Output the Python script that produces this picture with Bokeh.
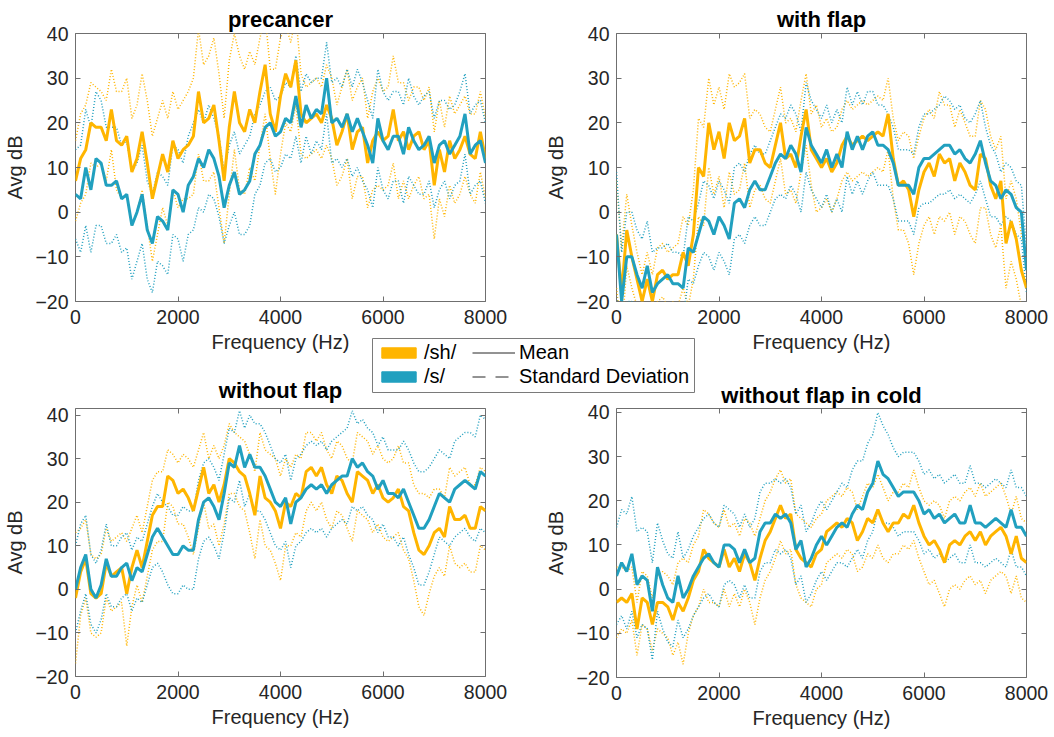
from bokeh.plotting import figure
from bokeh.models import (Range1d, FixedTicker, LinearAxis, Legend, LegendItem,
                          ColumnDataSource)
from bokeh.layouts import row, column
from bokeh.embed import file_html
from bokeh.resources import INLINE

# ---------------- data ----------------
freq = list(range(0, 8001, 100))
x_ticks = [0, 2000, 4000, 6000, 8000]
y_ticks = [-20, -10, 0, 10, 20, 30, 40]

precancer_sh_mean = [7, 12, 14, 20, 19, 19, 16, 23, 16, 15,
                     17, 9, 12, 18, 11, 3, 8, 13, 9, 16,
                     12, 14, 15, 17, 27, 20, 21, 24, 16, 7,
                     19, 27, 20, 18, 23, 20, 27, 33, 22, 18,
                     26, 31, 28, 34, 22, 20, 21, 22, 20, 24,
                     21, 15, 18, 22, 14, 18, 19, 11, 16, 18,
                     16, 17, 23, 16, 18, 14, 17, 18, 14, 16,
                     6, 14, 9, 16, 12, 14, 17, 13, 12, 18,
                     12]
precancer_s_mean = [4, 3, 10, 5, 12, 11, 6, 6, 7, 3,
                    4, -3, 0, 4, -4, -7, -1, -2, -4, 5,
                    4, 0, 6, 8, 12, 10, 14, 12, 8, 1,
                    6, 9, 4, 5, 7, 13, 15, 19, 20, 17,
                    18, 21, 20, 26, 19, 24, 21, 23, 22, 30,
                    20, 21, 19, 22, 18, 21, 18, 15, 11, 21,
                    16, 14, 17, 17, 13, 19, 16, 14, 15, 17,
                    11, 15, 16, 13, 15, 17, 22, 13, 15, 16,
                    11]
precancer_sh_sd = [9, 10, 10, 9, 9, 8, 9, 9, 11, 12,
                   13, 12, 12, 13, 14, 14, 13, 12, 12, 11,
                   11, 11, 12, 13, 14, 13, 14, 15, 15, 14,
                   15, 13, 15, 14, 13, 13, 12, 11, 10, 14,
                   13, 11, 10, 10, 9, 8, 8, 8, 8, 9,
                   9, 9, 10, 10, 11, 10, 11, 10, 11, 12,
                   11, 11, 12, 13, 11, 11, 11, 10, 11, 12,
                   12, 11, 10, 10, 10, 10, 9, 9, 10, 9,
                   9]
precancer_s_sd = [10, 12, 13, 14, 15, 14, 13, 13, 12, 12,
                  12, 12, 11, 11, 11, 11, 10, 10, 10, 10,
                  10, 11, 11, 12, 11, 10, 10, 9, 9, 8,
                  9, 9, 9, 10, 10, 9, 9, 8, 8, 8,
                  8, 8, 8, 9, 8, 7, 8, 7, 8, 8,
                  9, 9, 9, 10, 10, 11, 11, 10, 10, 11,
                  11, 11, 10, 10, 11, 11, 10, 10, 11, 10,
                  10, 10, 9, 10, 9, 10, 9, 9, 9, 9,
                  9]

withflap_sh_mean = [-5, -18, -4, -10, -15, -20, -15, -20, -14, -13,
                    -15, -14, -14, -9, -12, -5, 10, 8, 20, 14,
                    18, 12, 20, 16, 17, 21, 11, 14, 14, 11,
                    10, 15, 20, 12, 13, 10, 17, 23, 14, 12,
                    10, 12, 9, 11, 15, 17, 15, 16, 17, 16,
                    17, 18, 17, 22, 12, 6, 7, 5, -1, 5,
                    9, 11, 8, 13, 11, 12, 7, 11, 9, 6,
                    5, 13, 12, 6, 3, 7, -7, -2, -6, -13,
                    -17]
withflap_s_mean = [-5, -20, -10, -10, -14, -17, -12, -18, -16, -15,
                   -14, -16, -16, -17, -8, -9, -5, -1, -2, -5,
                   -1, -3, -6, 2, 3, 1, 5, 7, 5, 5,
                   8, 11, 13, 12, 15, 13, 9, 19, 15, 13,
                   11, 14, 10, 13, 10, 18, 14, 17, 14, 17,
                   18, 15, 15, 14, 11, 6, 6, 6, 4, 10,
                   12, 12, 13, 14, 15, 15, 13, 14, 12, 11,
                   13, 16, 11, 7, 6, 3, 5, 4, 1, 0,
                   -13]
withflap_sh_sd = [12, 10, 8, 7, 6, 6, 6, 6, 6, 6,
                  6, 6, 7, 8, 9, 10, 11, 11, 10, 10,
                  10, 11, 11, 12, 12, 10, 10, 9, 8, 8,
                  8, 8, 8, 8, 8, 8, 8, 8, 8, 12,
                  9, 9, 9, 8, 8, 8, 8, 8, 8, 8,
                  8, 8, 8, 8, 9, 10, 11, 12, 13, 12,
                  12, 12, 13, 14, 13, 12, 12, 12, 11, 11,
                  12, 12, 11, 11, 11, 10, 10, 9, 9, 8,
                  7]
withflap_s_sd = [14, 11, 10, 10, 10, 11, 10, 9, 8, 7,
                 7, 7, 7, 7, 7, 7, 7, 8, 8, 8,
                 8, 8, 8, 8, 8, 8, 8, 8, 8, 8,
                 8, 8, 9, 9, 9, 9, 9, 10, 10, 10,
                 10, 10, 10, 10, 10, 10, 10, 10, 10, 10,
                 9, 9, 9, 8, 8, 8, 8, 8, 9, 9,
                 10, 10, 10, 10, 11, 10, 10, 10, 9, 9,
                 9, 9, 8, 8, 7, 6, 6, 6, 6, 6,
                 5]

withoutflap_sh_mean = [-2, 4, 7, -1, -2, -1, 6, 3, 4, 5,
                       -1, 5, 9, 5, 11, 17, 19, 19, 26, 25,
                       22, 23, 21, 18, 23, 28, 22, 24, 20, 24,
                       30, 29, 27, 26, 22, 17, 26, 21, 20, 18,
                       14, 20, 19, 22, 21, 27, 28, 26, 28, 24,
                       22, 26, 25, 22, 20, 27, 26, 25, 22, 24,
                       21, 20, 21, 23, 19, 18, 13, 9, 8, 10,
                       13, 14, 12, 19, 16, 16, 17, 14, 14, 19,
                       18]
withoutflap_s_mean = [0, 5, 8, 0, -2, 1, 7, 3, 3, 5,
                      6, 2, 5, 4, 8, 12, 14, 12, 10, 8,
                      8, 10, 9, 9, 16, 20, 21, 19, 16, 22,
                      29, 28, 33, 28, 31, 28, 28, 26, 23, 20,
                      19, 21, 15, 20, 21, 23, 24, 23, 24, 22,
                      24, 25, 26, 26, 30, 28, 29, 27, 26, 23,
                      25, 22, 22, 21, 23, 20, 17, 14, 14, 16,
                      19, 22, 21, 20, 23, 24, 25, 24, 23, 27,
                      26]
withoutflap_sh_sd = [15, 10, 9, 9, 9, 9, 8, 8, 8, 8,
                     12, 9, 8, 8, 8, 8, 8, 8, 6, 6,
                     7, 8, 9, 10, 9, 8, 8, 9, 10, 9,
                     8, 7, 8, 8, 9, 10, 10, 11, 11, 12,
                     12, 10, 9, 9, 9, 9, 8, 8, 8, 8,
                     8, 8, 8, 8, 9, 9, 9, 9, 9, 9,
                     9, 9, 9, 10, 10, 11, 11, 13, 14, 11,
                     10, 9, 9, 9, 10, 11, 11, 10, 10, 9,
                     9]
withoutflap_s_sd = [10, 10, 9, 8, 8, 8, 8, 7, 7, 7,
                    7, 7, 7, 7, 7, 7, 8, 8, 9, 9,
                    9, 9, 9, 9, 9, 9, 9, 9, 9, 9,
                    8, 8, 8, 9, 9, 10, 10, 10, 10, 10,
                    10, 10, 10, 10, 10, 10, 10, 10, 10, 10,
                    10, 10, 10, 11, 11, 10, 10, 10, 10, 10,
                    10, 10, 10, 11, 11, 12, 12, 13, 13, 12,
                    11, 10, 10, 10, 11, 11, 11, 12, 12, 13,
                    13]

cold_sh_mean = [-3, -2, -3, -1, -9, -2, -3, -8, -3, -3,
                -4, -7, -3, -5, -2, 2, 4, 9, 7, 6,
                5, 9, 5, 7, 4, 8, 6, 2, 7, 11,
                13, 16, 19, 16, 17, 9, 7, 6, 5, 8,
                9, 13, 14, 15, 14, 16, 15, 11, 13, 16,
                15, 18, 15, 13, 15, 15, 17, 16, 19, 15,
                12, 10, 11, 9, 6, 10, 11, 10, 12, 13,
                11, 13, 10, 12, 13, 14, 12, 8, 12, 7,
                6]
cold_s_mean = [3, 6, 4, 8, 1, 3, 2, -5, 5, 1,
               -2, -3, 3, -2, 0, 3, 5, 7, 8, 6,
               5, 10, 10, 9, 6, 9, 6, 7, 13, 15,
               15, 17, 16, 17, 15, 9, 11, 5, 7, 10,
               12, 10, 12, 14, 15, 14, 17, 19, 18, 22,
               24, 29, 26, 25, 23, 21, 22, 22, 22, 20,
               17, 18, 16, 17, 15, 16, 17, 15, 15, 19,
               15, 15, 14, 15, 16, 15, 14, 18, 14, 14,
               12]
cold_sh_sd = [8, 7, 7, 6, 6, 6, 6, 6, 6, 7,
              7, 8, 9, 12, 8, 8, 8, 9, 10, 9,
              9, 9, 9, 8, 8, 8, 9, 10, 9, 9,
              9, 9, 8, 8, 8, 8, 9, 9, 9, 8,
              8, 7, 7, 7, 7, 7, 7, 7, 8, 8,
              8, 8, 8, 7, 7, 7, 7, 7, 8, 8,
              8, 9, 9, 10, 10, 10, 10, 10, 10, 10,
              10, 11, 11, 10, 10, 10, 9, 9, 9, 9,
              9]
cold_s_sd = [11, 12, 13, 13, 12, 11, 11, 11, 10, 10,
             10, 10, 10, 9, 9, 9, 9, 9, 9, 9,
             9, 9, 8, 8, 8, 8, 8, 9, 9, 9,
             9, 8, 8, 8, 8, 8, 8, 8, 8, 8,
             8, 8, 8, 8, 9, 9, 10, 10, 11, 11,
             11, 11, 11, 10, 9, 9, 9, 9, 9, 9,
             9, 9, 9, 9, 9, 9, 9, 9, 9, 9,
             9, 9, 9, 9, 9, 9, 9, 9, 9, 9,
             9]

titles = ["precancer", "with flap", "without flap", "without flap in cold"]
series_labels = ["/sh/", "/s/"]
style_labels = ["Mean", "Standard Deviation"]

# ---------------- style ----------------
ORANGE = "#FFB500"
BLUE = "#21A0BF"
FONT = "Liberation Sans"
TXT = "#262626"
BOX = "#6f6f6f"


def make_panel(title, sh_mean, s_mean, sh_sd, s_sd, ymax,
               mb_left, mb_right, mb_top, mb_bottom, fh, title_standoff):
    p = figure(frame_width=410, frame_height=fh,
               min_border_left=mb_left, min_border_right=mb_right,
               min_border_top=mb_top, min_border_bottom=mb_bottom,
               x_range=Range1d(0, 8000), y_range=Range1d(-20, ymax),
               toolbar_location=None, output_backend="svg",
               background_fill_color="white", border_fill_color="white")
    src = ColumnDataSource(data=dict(
        f=freq,
        sh_m=sh_mean, s_m=s_mean,
        sh_hi=[m + s for m, s in zip(sh_mean, sh_sd)],
        sh_lo=[m - s for m, s in zip(sh_mean, sh_sd)],
        s_hi=[m + s for m, s in zip(s_mean, s_sd)],
        s_lo=[m - s for m, s in zip(s_mean, s_sd)],
    ))
    dot = dict(line_width=1.5, line_dash="1 2")
    p.line("f", "sh_hi", source=src, line_color=ORANGE, **dot)
    p.line("f", "sh_lo", source=src, line_color=ORANGE, **dot)
    p.line("f", "s_hi", source=src, line_color=BLUE, **dot)
    p.line("f", "s_lo", source=src, line_color=BLUE, **dot)
    p.line("f", "sh_m", source=src, line_color=ORANGE, line_width=3)
    p.line("f", "s_m", source=src, line_color=BLUE, line_width=3)

    p.grid.visible = False
    p.outline_line_color = BOX
    p.outline_line_width = 1

    p.title.text = title
    p.title.align = "center"
    p.title.text_font = FONT
    p.title.text_font_size = "22px"
    p.title.text_font_style = "bold"
    p.title.text_color = "black"
    p.title.standoff = title_standoff

    for ax, ticks, lab in ((p.xaxis[0], x_ticks, "Frequency (Hz)"),
                           (p.yaxis[0], y_ticks, "Avg dB")):
        ax.ticker = FixedTicker(ticks=ticks)
        ax.axis_label = lab
        ax.axis_label_text_font = FONT
        ax.axis_label_text_font_size = "20px"
        ax.axis_label_text_font_style = "normal"
        ax.axis_label_text_color = TXT
        ax.major_label_text_font = FONT
        ax.major_label_text_font_size = "19.5px"
        ax.major_label_text_color = TXT
        ax.axis_line_color = None
        ax.major_tick_in = 5
        ax.major_tick_out = 0
        ax.major_tick_line_color = BOX
        ax.minor_tick_line_color = None
    p.xaxis[0].major_label_standoff = 8
    p.xaxis[0].axis_label_standoff = 4
    p.yaxis[0].major_label_standoff = 7
    p.yaxis[0].axis_label_standoff = 6

    # tick marks on the top and right edges of the box (no labels)
    for ticks, place in ((x_ticks, "above"), (y_ticks, "right")):
        a = LinearAxis(ticker=FixedTicker(ticks=ticks),
                       major_label_text_font_size="0px",
                       major_label_text_color=None,
                       major_label_standoff=0,
                       major_tick_in=5, major_tick_out=0,
                       major_tick_line_color=BOX,
                       minor_tick_line_color=None,
                       axis_line_color=None)
        p.add_layout(a, place)
    return p


p1 = make_panel(titles[0], precancer_sh_mean, precancer_s_mean,
                precancer_sh_sd, precancer_s_sd, 40, 75, 42, 33, 67, 268, 4)
p2 = make_panel(titles[1], withflap_sh_mean, withflap_s_mean,
                withflap_sh_sd, withflap_s_sd, 40, 89, 28, 33, 67, 268, 4)
p3 = make_panel(titles[2], withoutflap_sh_mean, withoutflap_s_mean,
                withoutflap_sh_sd, withoutflap_s_sd, 41.5, 75, 42, 40, 61, 268, 12)
p4 = make_panel(titles[3], cold_sh_mean, cold_s_mean,
                cold_sh_sd, cold_s_sd, 40.9, 89, 28, 38, 62, 269, 2)

# ---------------- legend box ----------------
nan = float("nan")
lg = figure(width=323, height=55, x_range=Range1d(0, 1), y_range=Range1d(0, 1),
            toolbar_location=None, output_backend="svg",
            x_axis_location=None, y_axis_location=None, min_border=0,
            background_fill_color="white", border_fill_color="white")
lg.grid.visible = False
lg.outline_line_color = "#7a7a7a"
blank_q = ColumnDataSource(data=dict(l=[nan], r=[nan], t=[nan], b=[nan]))
blank_l = ColumnDataSource(data=dict(x=[nan], y=[nan]))
r_sh = lg.quad(left="l", right="r", top="t", bottom="b", source=blank_q,
               fill_color=ORANGE, line_color=ORANGE)
r_s = lg.quad(left="l", right="r", top="t", bottom="b", source=blank_q,
              fill_color=BLUE, line_color=BLUE)
r_mean = lg.line("x", "y", source=blank_l, line_color=TXT, line_width=1)
r_sd = lg.line("x", "y", source=blank_l, line_color=TXT, line_width=1,
               line_dash="13 10")

common = dict(label_text_font=FONT, label_text_font_size="20px",
              label_text_color="black", padding=0, margin=0, spacing=1,
              border_line_color=None, background_fill_alpha=0,
              label_standoff=4, label_height=20, glyph_height=13)
L1 = Legend(items=[LegendItem(label=series_labels[0], renderers=[r_sh]),
                   LegendItem(label=series_labels[1], renderers=[r_s])],
            location=(5, 5), glyph_width=43, **common)
L2 = Legend(items=[LegendItem(label=style_labels[0], renderers=[r_mean]),
                   LegendItem(label=style_labels[1], renderers=[r_sd])],
            location=(100, 5), glyph_width=43, **common)
lg.add_layout(L1)
lg.add_layout(L2)
lg.styles = {"position": "absolute", "left": "372px", "top": "338px",
             "z-index": "10"}

layout = column(row(p1, p2), row(p3, p4), lg)

with open("out.html", "w") as fh:
    fh.write(file_html(layout, INLINE))
